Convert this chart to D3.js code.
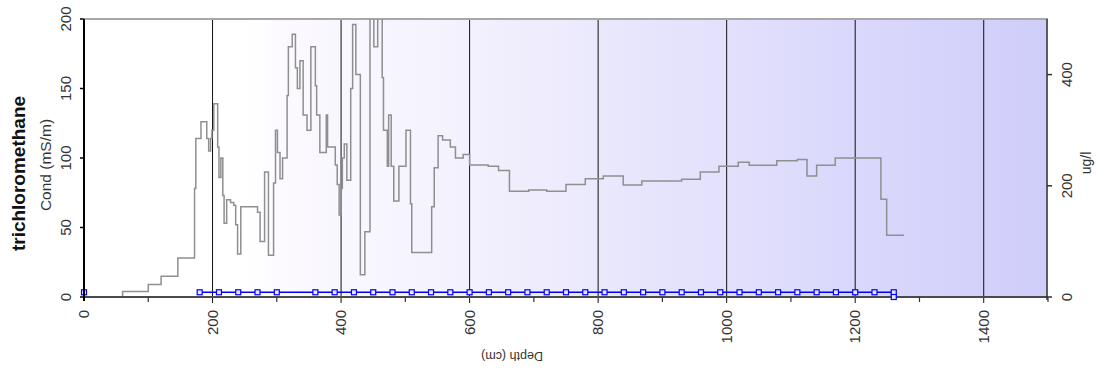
<!DOCTYPE html>
<html>
<head>
<meta charset="utf-8">
<script src="https://cdn.jsdelivr.net/npm/d3@7"></script>
<style>
  html, body { margin: 0; padding: 0; background: #fff; }
  svg { display: block; font-family: "Liberation Sans", Arial, sans-serif; }
</style>
</head>
<body>
<svg id="chart" width="1096" height="376"></svg>
<script>
// ---- Data ----
const title = "trichloromethane";
const leftAxisLabel = "Cond (mS/m)";
const rightAxisLabel = "ug/l";
const bottomAxisLabel = "Depth (cm)";

const leftTicks = [0, 50, 100, 150, 200];
const rightTicks = [0, 200, 400];
const depthMajorTicks = [0, 200, 400, 600, 800, 1000, 1200, 1400];
const depthMinorTicks = [100, 300, 500, 700, 900, 1100, 1300, 1500];

// conductivity step series (start depth of each step, value)
const condDepth = [0, 60, 100, 120, 146, 172, 174, 182, 191, 194, 197, 199, 202, 208, 210, 213, 216, 218, 222, 228, 233, 236, 239, 244, 270, 274, 281, 287, 295, 298, 301, 305, 309, 316, 318, 324, 329, 332, 336, 341, 347, 353, 360, 362, 367, 377, 379, 391, 394, 397, 400, 402, 405, 409, 415, 418, 423, 430, 437, 445, 451, 457, 464, 466, 472, 474, 478, 482, 490, 501, 508, 510, 541, 545, 551, 558, 570, 578, 590, 600, 629, 645, 662, 692, 720, 750, 780, 808, 839, 868, 930, 959, 988, 1018, 1035, 1078, 1110, 1125, 1140, 1169, 1240, 1249, 1276];
const condValue = [0, 4, 9, 15, 28, 78, 114, 126, 114, 105, 114, 120, 139, 108, 86, 100, 73, 53, 70, 68, 66, 52, 31, 65, 61, 40, 90, 30, 82, 120, 104, 85, 100, 145, 180, 189, 165, 150, 170, 131, 120, 180, 152, 131, 104, 131, 108, 95, 81, 59, 78, 100, 110, 84, 150, 196, 160, 16, 47, 215, 180, 215, 158, 120, 94, 131, 94, 69, 94, 120, 67, 32, 65, 93, 116, 113, 108, 100, 102.6, 95, 94, 91, 76, 77, 76, 81, 85, 87, 80.5, 83.5, 84.7, 90, 94, 97, 94.7, 98, 99, 87, 94.7, 100, 70.4, 44.5, 44.5];

// trichloromethane concentration (ug/l); null breaks the line
const chemDepth = [0, 90, 180, 210, 240, 270, 300, 360, 390, 420, 450, 480, 510, 540, 570, 600, 630, 660, 690, 720, 750, 780, 810, 840, 870, 900, 930, 960, 990, 1020, 1050, 1080, 1110, 1140, 1170, 1200, 1230, 1260, 1260];
const chemValue = [8.5, null, 8.5, 8.5, 8.5, 8.5, 8.5, 8.5, 8.5, 8.5, 8.5, 8.5, 8.5, 8.5, 8.5, 8.5, 8.5, 8.5, 8.5, 8.5, 8.5, 8.5, 8.5, 8.5, 8.5, 8.5, 8.5, 8.5, 8.5, 8.5, 8.5, 8.5, 8.5, 8.5, 8.5, 8.5, 8.5, 8.5, 0];

// ---- Layout ----
const svg = d3.select("#chart");
const L = 84, R = 1048, T = 19, B = 297;

const x = d3.scaleLinear().domain([0, 1500]).range([L, R]);
const yL = d3.scaleLinear().domain([0, 200]).range([B, T]);
const yR = d3.scaleLinear().domain([0, 500]).range([B, T]);

// background gradient
const defs = svg.append("defs");
const grad = defs.append("linearGradient").attr("id", "bg").attr("x1", "0").attr("x2", "1").attr("y1", "0").attr("y2", "0");
[[0, "#ffffff"], [0.17, "#ffffff"], [0.2, "#fcfaff"], [0.4, "#f3f1fd"], [0.6, "#e6e4fc"], [0.8, "#dad8fb"], [1, "#cfcefa"]]
  .forEach(([o, c]) => grad.append("stop").attr("offset", o).attr("stop-color", c));
defs.append("clipPath").attr("id", "clip").append("rect")
  .attr("x", L).attr("y", T).attr("width", R - L).attr("height", B - T);

svg.append("rect").attr("x", L).attr("y", T).attr("width", R - L).attr("height", B - T).attr("fill", "url(#bg)");

// vertical grid lines (major depth)
svg.append("g").selectAll("line").data(depthMajorTicks.filter(d => d > 0)).join("line")
  .attr("x1", d => x(d)).attr("x2", d => x(d))
  .attr("y1", T).attr("y2", B + 6)
  .attr("stroke", "#111").attr("stroke-width", 1);

// top border
svg.append("line").attr("x1", L).attr("x2", R).attr("y1", T).attr("y2", T)
  .attr("stroke", "#a8a8a8").attr("stroke-width", 2);

// conductivity line
const condData = condDepth.map((d, i) => [d, condValue[i]]);
svg.append("path").datum(condData)
  .attr("clip-path", "url(#clip)")
  .attr("fill", "none").attr("stroke", "#8f8f8f").attr("stroke-width", 1.5)
  .attr("d", d3.line().x(d => x(d[0])).y(d => yL(d[1])).curve(d3.curveStepAfter));

// bottom axis line
svg.append("line").attr("x1", L).attr("x2", R).attr("y1", B).attr("y2", B)
  .attr("stroke", "#4a4a4a").attr("stroke-width", 2);

// chem line + markers
const chemData = chemDepth.map((d, i) => [d, chemValue[i]]);
svg.append("path").datum(chemData)
  .attr("fill", "none").attr("stroke", "#0000ff").attr("stroke-width", 1.5)
  .attr("d", d3.line().defined(d => d[1] !== null).x(d => x(d[0])).y(d => yR(d[1])));
svg.append("g").selectAll("rect").data(chemData.filter(d => d[1] !== null)).join("rect")
  .attr("x", d => x(d[0]) - 2.5).attr("y", d => yR(d[1]) - 2.5)
  .attr("width", 5).attr("height", 5)
  .attr("fill", "#e8e8ff").attr("stroke", "#0000ff").attr("stroke-width", 1.2);

// left axis
svg.append("line").attr("x1", L).attr("x2", L).attr("y1", T).attr("y2", B + 4)
  .attr("stroke", "#000").attr("stroke-width", 2);
svg.append("g").selectAll("line").data(leftTicks).join("line")
  .attr("x1", L - 4).attr("x2", L).attr("y1", d => yL(d)).attr("y2", d => yL(d))
  .attr("stroke", "#000").attr("stroke-width", 1.5);
svg.append("g").selectAll("text").data(leftTicks).join("text")
  .attr("transform", d => `translate(71,${yL(d)}) rotate(-90)`)
  .attr("text-anchor", "middle").attr("font-size", 15).attr("fill", "#333")
  .text(d => d);

// right axis
svg.append("line").attr("x1", R - 1).attr("x2", R - 1).attr("y1", T).attr("y2", B + 3)
  .attr("stroke", "#333").attr("stroke-width", 1.5);
svg.append("g").selectAll("line").data(rightTicks).join("line")
  .attr("x1", R - 1).attr("x2", R + 4).attr("y1", d => yR(d)).attr("y2", d => yR(d))
  .attr("stroke", "#333").attr("stroke-width", 1.5);
svg.append("g").selectAll("text").data(rightTicks).join("text")
  .attr("transform", d => `translate(1072,${yR(d)}) rotate(-90)`)
  .attr("text-anchor", "middle").attr("font-size", 15).attr("fill", "#333")
  .text(d => d);

// bottom ticks
svg.append("g").selectAll("line").data(depthMinorTicks).join("line")
  .attr("x1", d => x(d)).attr("x2", d => x(d)).attr("y1", B).attr("y2", B + 5)
  .attr("stroke", "#333").attr("stroke-width", 1.2);
svg.append("g").selectAll("text").data(depthMajorTicks).join("text")
  .attr("transform", d => `translate(${x(d) + 5},310) rotate(-90)`)
  .attr("text-anchor", "end").attr("font-size", 15).attr("fill", "#333")
  .text(d => d);

// axis titles
svg.append("text").attr("transform", "translate(25,173.5) rotate(-90)")
  .attr("text-anchor", "middle").attr("font-size", 19).attr("font-weight", "bold").attr("fill", "#111")
  .text(title);
svg.append("text").attr("transform", "translate(51,165) rotate(-90)")
  .attr("text-anchor", "middle").attr("font-size", 15.5).attr("fill", "#333")
  .text(leftAxisLabel);
svg.append("text").attr("transform", "translate(1091,163) rotate(-90)")
  .attr("text-anchor", "middle").attr("font-size", 14).attr("fill", "#333")
  .text(rightAxisLabel);
svg.append("text").attr("transform", "translate(512,352) rotate(180)")
  .attr("text-anchor", "middle").attr("font-size", 12.5).attr("fill", "#333")
  .text(bottomAxisLabel);
</script>
</body>
</html>
